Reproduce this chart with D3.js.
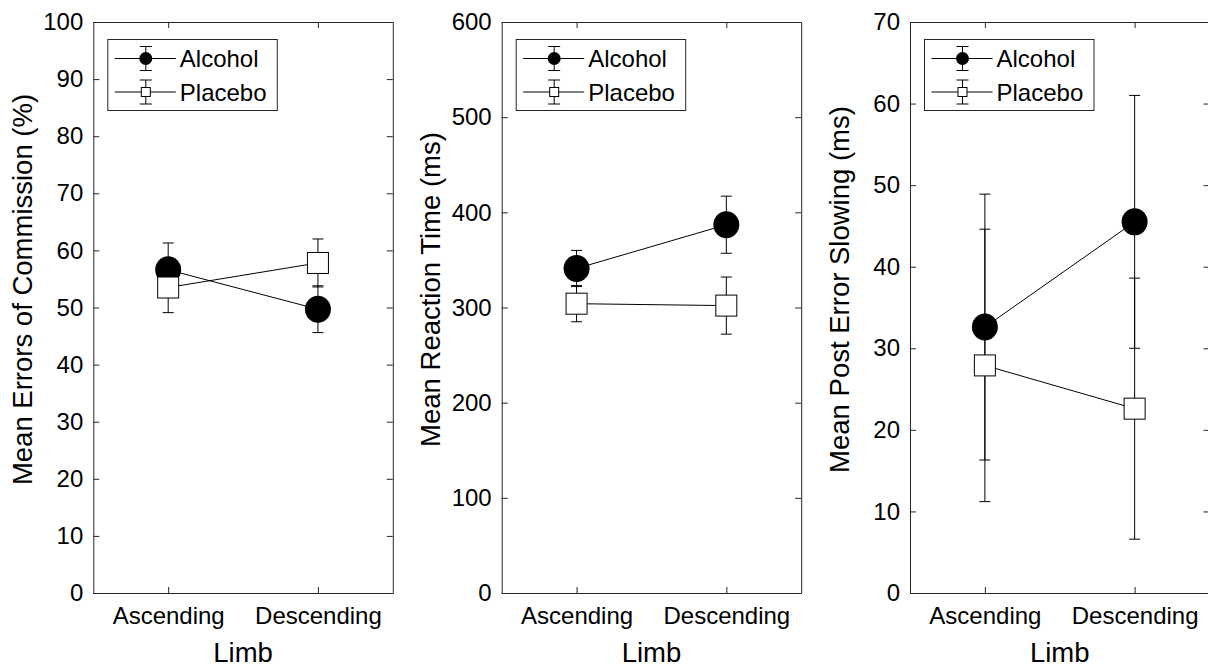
<!DOCTYPE html>
<html>
<head>
<meta charset="utf-8">
<script src="https://cdn.jsdelivr.net/npm/d3@7"></script>
<style>
  body { margin: 0; background: #fff; }
  svg { display: block; }
  text { font-family: Arial, "Liberation Sans", Helvetica, sans-serif; fill: #000; }
</style>
</head>
<body>
<div id="chart"></div>
<script>
// data
var limbs = ["Ascending", "Descending"];
var seriesNames = ["Alcohol", "Placebo"];

var errAlcohol = [56.6, 49.7];
var errAlcoholSe = [4.7, 4.1];
var errPlacebo = [53.5, 57.8];
var errPlaceboSe = [4.4, 4.2];

var rtAlcohol = [341, 387];
var rtAlcoholSe = [19, 30];
var rtPlacebo = [304, 302];
var rtPlaceboSe = [19, 30];

var pesAlcohol = [32.6, 45.5];
var pesAlcoholSe = [16.3, 15.5];
var pesPlacebo = [27.9, 22.6];
var pesPlaceboSe = [16.7, 16.0];

var yLabels = ["Mean Errors of Commission (%)", "Mean Reaction Time (ms)", "Mean Post Error Slowing (ms)"];
var yMax = [100, 600, 70];
var yTicks = [d3.range(0, 101, 10), d3.range(0, 601, 100), d3.range(0, 71, 10)];
var xLabel = "Limb";

var panels = [
  { alc: errAlcohol, alcSe: errAlcoholSe, pla: errPlacebo, plaSe: errPlaceboSe },
  { alc: rtAlcohol, alcSe: rtAlcoholSe, pla: rtPlacebo, plaSe: rtPlaceboSe },
  { alc: pesAlcohol, alcSe: pesAlcoholSe, pla: pesPlacebo, plaSe: pesPlaceboSe }
];

var W = 1208, H = 669;
var plotTop = 22, plotBottom = 593, plotW = 299.5;
var lefts = [93.3, 501.7, 910];
var axisColor = "#262626";
var tickFont = 24, labelFont = 27.5;

var svg = d3.select("#chart").append("svg")
  .attr("width", W).attr("height", H);

panels.forEach(function(p, k) {
  var left = lefts[k];
  var right = left + plotW;
  var x = d3.scaleLinear().domain([0.5, 2.5]).range([left, right]);
  var y = d3.scaleLinear().domain([0, yMax[k]]).range([plotBottom, plotTop]);
  var g = svg.append("g");

  // box axes, ticks pointing in
  var ax = function(gen, tx, ty, labels) {
    var a = g.append("g").attr("transform", "translate(" + tx + "," + ty + ")").call(gen);
    a.select(".domain").attr("stroke", axisColor).attr("stroke-width", 1);
    a.selectAll(".tick line").attr("stroke", axisColor);
    a.selectAll(".tick text").attr("font-size", tickFont)
      .style("font-family", "Arial, 'Liberation Sans', sans-serif").attr("fill", "#000");
    if (!labels) a.selectAll(".tick text").remove();
    return a;
  };
  ax(d3.axisLeft(y).tickValues(yTicks[k]).tickSize(-6).tickSizeOuter(0).tickPadding(10), left, 0, true);
  ax(d3.axisRight(y).tickValues(yTicks[k]).tickSize(-6).tickSizeOuter(0), right, 0, false);
  ax(d3.axisBottom(x).tickValues([1, 2]).tickFormat(function(d) { return limbs[d - 1]; })
      .tickSize(-6).tickSizeOuter(0).tickPadding(14), 0, plotBottom, true);
  ax(d3.axisTop(x).tickValues([1, 2]).tickSize(-6).tickSizeOuter(0), 0, plotTop, false);

  // axis labels
  g.append("text")
    .attr("transform", "translate(" + (left - 71) + "," + ((plotTop + plotBottom) / 2 - 18) + ") rotate(-90)")
    .attr("text-anchor", "middle").attr("dominant-baseline", "central")
    .attr("font-size", labelFont).text(yLabels[k]);
  g.append("text")
    .attr("x", x(1.5)).attr("y", 662)
    .attr("text-anchor", "middle")
    .attr("font-size", labelFont).text(xLabel);

  // series: alcohol first, placebo drawn on top
  var series = [
    { m: p.alc, se: p.alcSe, type: "circle" },
    { m: p.pla, se: p.plaSe, type: "square" }
  ];
  series.forEach(function(s) {
    var pts = s.m.map(function(v, i) { return { x: i + 1, v: v, e: s.se[i] }; });
    var sg = g.append("g");
    var eb = sg.selectAll(".eb").data(pts).enter().append("g");
    eb.append("line")
      .attr("x1", function(d) { return x(d.x); }).attr("x2", function(d) { return x(d.x); })
      .attr("y1", function(d) { return y(d.v - d.e); }).attr("y2", function(d) { return y(d.v + d.e); })
      .attr("stroke", "#000").attr("stroke-width", 1);
    [-1, 1].forEach(function(sgn) {
      eb.append("line")
        .attr("x1", function(d) { return x(d.x) - 5.5; }).attr("x2", function(d) { return x(d.x) + 5.5; })
        .attr("y1", function(d) { return y(d.v + sgn * d.e); }).attr("y2", function(d) { return y(d.v + sgn * d.e); })
        .attr("stroke", "#000").attr("stroke-width", 1);
    });
    sg.append("path")
      .datum(pts)
      .attr("d", d3.line().x(function(d) { return x(d.x); }).y(function(d) { return y(d.v); }))
      .attr("fill", "none").attr("stroke", "#000").attr("stroke-width", 1);
    if (s.type === "circle") {
      sg.selectAll(".mk").data(pts).enter().append("ellipse")
        .attr("cx", function(d) { return x(d.x); }).attr("cy", function(d) { return y(d.v); })
        .attr("rx", 13).attr("ry", 13.5).attr("fill", "#000");
    } else {
      sg.selectAll(".mk").data(pts).enter().append("rect")
        .attr("x", function(d) { return x(d.x) - 10.5; }).attr("y", function(d) { return y(d.v) - 10.5; })
        .attr("width", 21).attr("height", 21)
        .attr("fill", "#fff").attr("stroke", "#000").attr("stroke-width", 1);
    }
  });

  // legend
  var lx = left + 14.5, ly = 39.5;
  var lg = g.append("g").attr("transform", "translate(" + lx + "," + ly + ")");
  lg.append("rect").attr("width", 169.5).attr("height", 71)
    .attr("fill", "#fff").attr("stroke", axisColor).attr("stroke-width", 1);
  seriesNames.forEach(function(name, i) {
    var ry = i === 0 ? 19 : 52.5;
    var row = lg.append("g").attr("transform", "translate(0," + ry + ")");
    row.append("line").attr("x1", 7).attr("x2", 68).attr("y1", 0).attr("y2", 0).attr("stroke", "#000");
    row.append("line").attr("x1", 38).attr("x2", 38).attr("y1", -12).attr("y2", 12).attr("stroke", "#000");
    row.append("line").attr("x1", 32).attr("x2", 44).attr("y1", -12).attr("y2", -12).attr("stroke", "#000");
    row.append("line").attr("x1", 32).attr("x2", 44).attr("y1", 12).attr("y2", 12).attr("stroke", "#000");
    if (i === 0) {
      row.append("circle").attr("cx", 38).attr("cy", 0).attr("r", 6.5).attr("fill", "#000");
    } else {
      row.append("rect").attr("x", 33.5).attr("y", -4.5).attr("width", 9).attr("height", 9)
        .attr("fill", "#fff").attr("stroke", "#000");
    }
    row.append("text").attr("x", 72).attr("y", 0).attr("dominant-baseline", "central")
      .attr("font-size", tickFont).text(name);
  });
});
</script>
</body>
</html>
